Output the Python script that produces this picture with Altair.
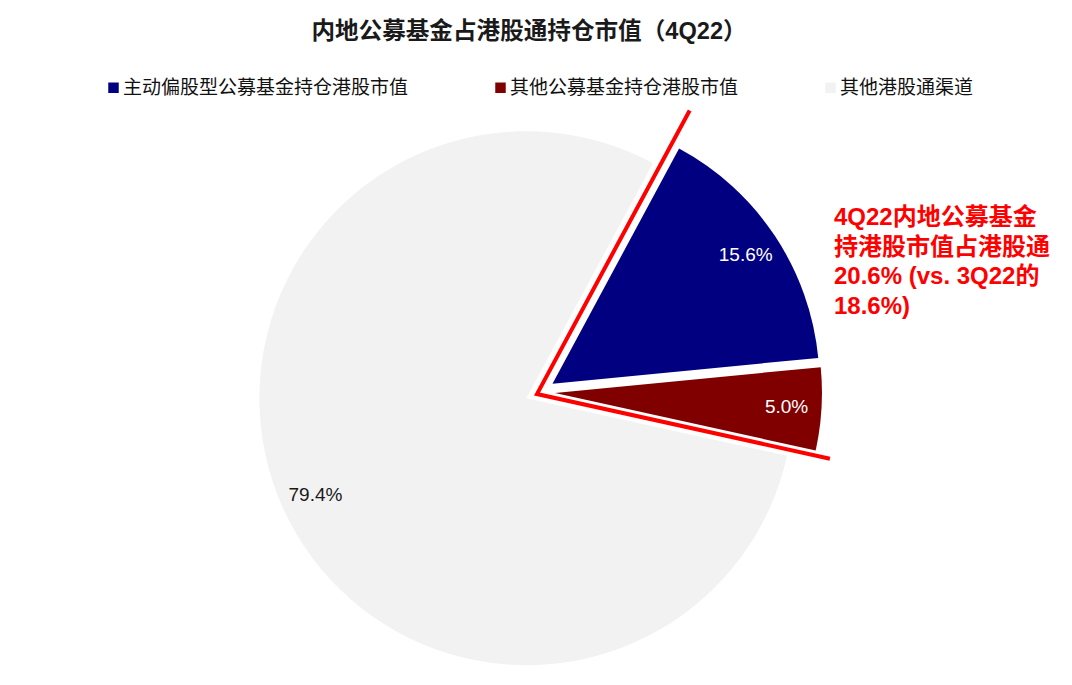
import math
import altair as alt
import pandas as pd

# ---------------- data ----------------
categories = ["主动偏股型公募基金持仓港股市值", "其他公募基金持仓港股市值", "其他港股通渠道"]
shares = [15.6, 5.0, 79.4]
labels = ["15.6%", "5.0%", "79.4%"]
colors = ["#000080", "#800000", "#F2F2F2"]
label_colors = ["#FFFFFF", "#FFFFFF", "#1A1A1A"]
title_text = "内地公募基金占港股通持仓市值（4Q22）"
note_lines = ["4Q22内地公募基金", "持港股市值占港股通", "20.6% (vs. 3Q22的", "18.6%)"]

# ---------------- geometry / style ----------------
W, H = 1056, 669
CX, CY = 532, 384          # pie centre (plot coords)
R = 267                    # radius
EXPLODE = 15               # explode distance
LR = 232                   # label distance from slice apex
A0 = math.radians(28.3)    # start angle (clockwise from 12 o'clock)
TWO_PI = 2 * math.pi
MIXED_FONT = "Liberation Sans, 'Noto Sans CJK SC', sans-serif"

df = pd.DataFrame({
    "category": categories,
    "share": shares,
    "label": labels,
    "lcolor": label_colors,
    "order": list(range(len(categories))),
})

base = (
    alt.Chart(df)
    .transform_window(cum="sum(share)", sort=[alt.SortField("order")], frame=[None, 0])
    .transform_calculate(
        start="datum.cum - datum.share",
        mid=f"{A0} + (2*datum.cum - datum.share) / 200 * {TWO_PI}",
    )
    .transform_calculate(
        cx=f"{CX} + {EXPLODE} * sin(datum.mid)",
        cy=f"{CY} - {EXPLODE} * cos(datum.mid)",
    )
    .transform_calculate(
        lx=f"datum.cx + {LR} * sin(datum.mid)",
        ly=f"datum.cy - {LR} * cos(datum.mid)",
    )
)

theta_scale = alt.Scale(domain=[0, 100], range=[A0, A0 + TWO_PI])

arcs = base.mark_arc(radius=R).encode(
    theta=alt.Theta("start:Q", scale=theta_scale, stack=None),
    theta2=alt.Theta2("cum:Q"),
    x=alt.X("cx:Q", scale=None, axis=None),
    y=alt.Y("cy:Q", scale=None, axis=None),
    color=alt.Color(
        "category:N",
        scale=alt.Scale(domain=categories, range=colors),
        legend=alt.Legend(
            orient="none", legendX=96, legendY=70, direction="horizontal",
            columns=3, columnPadding=82, symbolType="square", symbolSize=110,
            symbolStrokeWidth=0, labelFont="Noto Sans CJK SC", labelFontSize=19,
            labelColor="#111111", labelLimit=600, title=None, padding=0, labelOffset=0,
        ),
    ),
)

pct = base.mark_text(font="Liberation Sans", fontSize=19, align="center", baseline="middle").encode(
    x=alt.X("lx:Q", scale=None, axis=None),
    y=alt.Y("ly:Q", scale=None, axis=None),
    text="label:N",
    color=alt.Color("lcolor:N", scale=None),
)

# red outline around the exploded fund slices
sel_share = shares[0] + shares[1]
corner_x, corner_y = 529, 386
a_top = A0
a_bot = A0 + sel_share / 100 * TWO_PI
outline_df = pd.DataFrame({
    "x": [corner_x + 322 * math.sin(a_top), corner_x, corner_x + 300 * math.sin(a_bot)],
    "y": [corner_y - 322 * math.cos(a_top), corner_y, corner_y - 300 * math.cos(a_bot)],
    "o": [0, 1, 2],
})
outline = alt.Chart(outline_df).mark_line(color="#FF0000", strokeWidth=4, strokeJoin="miter").encode(
    x=alt.X("x:Q", scale=None, axis=None),
    y=alt.Y("y:Q", scale=None, axis=None),
    order="o:O",
)

title = alt.Chart(pd.DataFrame({"t": [title_text]})).mark_text(
    font=MIXED_FONT, fontSize=23.6, fontWeight="bold", color="#1A1A1A",
    align="center", baseline="alphabetic",
).encode(text="t:N", x=alt.value(521), y=alt.value(31))

note = alt.Chart(pd.DataFrame({"a": [0]})).mark_text(
    text=note_lines, font=MIXED_FONT, fontSize=24, fontWeight="bold",
    color="#FF0000", align="left", baseline="alphabetic", lineHeight=29.7,
).encode(x=alt.value(826), y=alt.value(217))

chart = (
    alt.layer(arcs, outline, pct, title, note)
    .properties(width=W, height=H, padding=0, autosize=alt.AutoSizeParams(type="none"))
    .configure_view(stroke=None)
)

chart.save("out.html", embed_options={"renderer": "svg", "actions": False})
